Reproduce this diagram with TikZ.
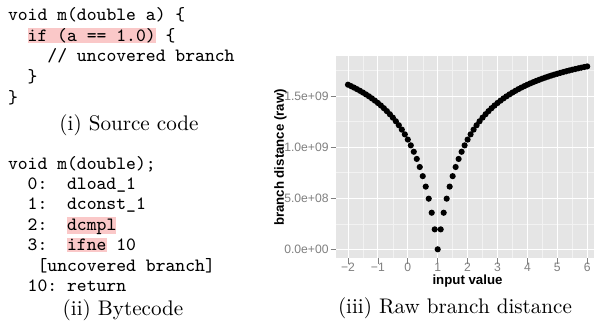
\documentclass[tikz,border=0pt]{standalone}
\usepackage{fontspec}
\usepackage{graphicx}
\newfontfamily\plotfont{Liberation Sans}
\definecolor{hlpink}{RGB}{250,200,200}
\definecolor{panelgrey}{RGB}{229,229,229}
\definecolor{minorgrid}{RGB}{242,242,242}
\definecolor{axisgrey}{RGB}{127,127,127}
\newlength\ttcell
% code is set in 9pt typewriter, scaled so that one character cell is 9.85bp
\newcommand\cd[1]{\scalebox{\ttscale}{\fontsize{9}{11}\selectfont\ttfamily\spaceskip=\ttcell\relax #1}}
\newcommand\capt[1]{\scalebox{2.12}{\fontsize{10}{12}\selectfont #1}}
\newcommand\hlbox[1]{{\setlength{\fboxsep}{0pt}\colorbox{hlpink}{\vphantom{()}#1}}}
% plot mapping: data x -> page x, value (in 1e9) -> page y
\newcommand\px[1]{437.7+29.9*(#1-1)}
\newcommand\py[1]{249.3-102.2*(#1)}
\begin{document}
\settowidth{\ttcell}{\fontsize{9}{11}\selectfont\ttfamily M}%
\pgfmathsetmacro\ttscale{9.887/\ttcell}%
\begin{tikzpicture}[x=1bp,y=-1bp,
  codeline/.style={anchor=base west,inner sep=0pt,outer sep=0pt},
  captionlabel/.style={anchor=base,inner sep=0pt},
  ticklabel/.style={inner sep=0pt,text=axisgrey,font=\plotfont\fontsize{12.2}{14}\selectfont},
  axistitle/.style={inner sep=0pt,font=\plotfont\fontsize{13.3}{15}\selectfont\bfseries},
  tickmark/.style={axisgrey,line width=0.8bp},
  majorgrid/.style={white,line width=1bp},
  minorline/.style={minorgrid,line width=0.5bp}]
\useasboundingbox (0,0) rectangle (594,326);

% ---- source code ----
\node[codeline] (s1) at (8,20.3)  {\cd{void m(double a) \{}};
\node[codeline] (s2) at (8,41.1)  {\cd{~~\hlbox{if (a == 1.0)} \{}};
\node[codeline] (s3) at (8,61.9)  {\cd{~~~~// uncovered branch}};
\node[codeline] (s4) at (8,82.7)  {\cd{~~\}}};
\node[codeline] (s5) at (8,103.5) {\cd{\}}};
\node[captionlabel] (cap1) at (129,130.7) {\capt{(i) Source code}};

% ---- bytecode ----
\node[codeline] (b1) at (8,169.0) {\cd{void m(double);}};
\node[codeline] (b2) at (8,189.4) {\cd{~~0:~~dload\_1}};
\node[codeline] (b3) at (8,209.8) {\cd{~~1:~~dconst\_1}};
\node[codeline] (b4) at (8,230.2) {\cd{~~2:~~\hlbox{dcmpl}}};
\node[codeline] (b5) at (8,250.6) {\cd{~~3:~~\hlbox{ifne} 10}};
\node[codeline] (b6) at (8,271.0) {\cd{~~~[uncovered branch]}};
\node[codeline] (b7) at (8,291.4) {\cd{~~10:~return}};
\node[captionlabel] (cap2) at (123,315) {\capt{(ii) Bytecode}};

% ---- plot panel ----
\fill[panelgrey] (336,56) rectangle (594,258);
\foreach \m in {-1.5,-0.5,...,5.5}
  \draw[minorline] ({\px{\m}},56) -- ({\px{\m}},258);
\foreach \v in {0.25,0.75,1.25,1.75}
  \draw[minorline] (336,{\py{\v}}) -- (594,{\py{\v}});
\foreach \t in {-2,...,6}
  \draw[majorgrid] ({\px{\t}},56) -- ({\px{\t}},258);
\foreach \v in {0,0.5,1,1.5}
  \draw[majorgrid] (336,{\py{\v}}) -- (594,{\py{\v}});

% raw branch distance: 2^31 * d/(d+1), d = |x - 1|
\foreach \i in {-20,...,60} {
  \pgfmathsetmacro\xv{\i/10}
  \pgfmathsetmacro\dd{abs(\xv-1)}
  \pgfmathsetmacro\vv{2.147483647*\dd/(\dd+1)}
  \fill[black] ({\px{\xv}},{\py{\vv}}) circle (3.1bp);
}

% axes
\foreach \v/\lab [count=\k] in {0/0.0e+00,0.5/5.0e+08,1/1.0e+09,1.5/1.5e+09} {
  \draw[tickmark] (330.5,{\py{\v}}) -- (336,{\py{\v}});
  \node[ticklabel,anchor=base east] (ylab\k) at (328.8,{\py{\v}+4.4}) {\lab};
}
\foreach \t/\lab [count=\k] in {-2/−2,-1/−1,0/0,1/1,2/2,3/3,4/4,5/5,6/6} {
  \draw[tickmark] ({\px{\t}},258) -- ({\px{\t}},263.5);
  \node[ticklabel,anchor=base] (xlab\k) at ({\px{\t}},271.7) {\lab};
}
\node[axistitle,rotate=90] (ytitle) at (280.5,157.5) {branch distance (raw)};
\node[axistitle,anchor=base] (xtitle) at (467.5,284) {input value};
\node[captionlabel] (cap3) at (455,313) {\capt{(iii) Raw branch distance}};
\end{tikzpicture}
\end{document}
